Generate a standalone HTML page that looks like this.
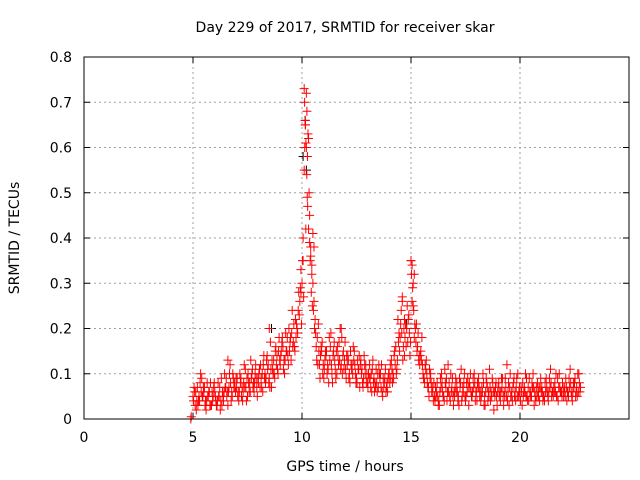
<!DOCTYPE html>
<html><head><meta charset="utf-8"><style>
body{margin:0;background:#fff}
svg{display:block;font-family:"DejaVu Sans","Liberation Sans",sans-serif}
</style></head><body>
<svg id="chart" width="640" height="480" xmlns="http://www.w3.org/2000/svg">
<rect width="640" height="480" fill="#fff"/>
<text x="345" y="32" font-size="14" text-anchor="middle">Day 229 of 2017, SRMTID for receiver skar</text>
<text x="345" y="471" font-size="14" text-anchor="middle">GPS time / hours</text>
<text transform="translate(19,238) rotate(-90)" font-size="14" text-anchor="middle">SRMTID / TECUs</text>
<g id="grid"></g><g id="ticks"></g><g id="pts"></g>
<rect x="84" y="57" width="545" height="362" fill="none" stroke="#000" stroke-width="1"/>
</svg>
<script>
const xTicks=[0,5,10,15,20];
const yTicks=[0,0.1,0.2,0.3,0.4,0.5,0.6,0.7,0.8];
const yTickLabels=["0","0.1","0.2","0.3","0.4","0.5","0.6","0.7","0.8"];
const startHour=5.0;
const seriesA=[.05,.03,.07,.04,.09,.06,.02,.05,.08,.04,
.06,.03,.05,.09,.04,.07,.03,.12,.05,.08,
.07,.04,.09,.06,.11,.05,.08,.10,.06,.09,
.08,.12,.06,.10,.14,.09,.07,.13,.16,.10,
.12,.18,.10,.15,.20,.13,.17,.22,.19,.26,
.30,.55,.72,.62,.38,.30,.22,.18,.12,.15,
.09,.14,.11,.16,.08,.13,.10,.17,.12,.15,
.11,.14,.08,.12,.15,.09,.11,.13,.07,.10,
.08,.12,.06,.09,.11,.07,.10,.05,.09,.08,
.10,.13,.09,.16,.22,.18,.26,.14,.20,.23,
.35,.30,.20,.16,.12,.18,.09,.13,.07,.10,
.06,.04,.08,.03,.10,.05,.07,.12,.04,.09,
.05,.08,.03,.11,.06,.04,.09,.07,.05,.10,
.06,.09,.04,.10,.03,.07,.11,.05,.02,.08,
.07,.04,.09,.05,.12,.03,.06,.08,.04,.10,
.05,.03,.07,.09,.04,.06,.10,.05,.08,.04,
.07,.05,.09,.04,.11,.06,.08,.05,.10,.06,
.05,.09,.06,.11,.04,.08,.07,.10];
const seriesB=[.07,.02,.04,.10,.05,.03,.08,.06,.03,.07,
.04,.08,.02,.06,.10,.05,.07,.04,.09,.06,
.05,.10,.07,.12,.04,.08,.13,.07,.10,.05,
.11,.07,.14,.09,.12,.17,.11,.09,.14,.18,
.15,.11,.19,.14,.17,.24,.16,.21,.28,.33,
.40,.65,.58,.45,.34,.26,.16,.21,.14,.10,
.13,.10,.18,.12,.15,.09,.14,.20,.10,.13,
.14,.09,.12,.16,.10,.13,.07,.11,.14,.08,
.10,.07,.13,.08,.06,.10,.12,.07,.06,.09,
.12,.08,.15,.11,.19,.24,.16,.21,.17,.14,
.26,.18,.21,.13,.15,.10,.12,.08,.11,.06,
.08,.05,.03,.09,.06,.11,.04,.08,.06,.03,
.09,.04,.07,.05,.10,.08,.03,.06,.09,.04,
.08,.05,.07,.03,.09,.06,.04,.08,.05,.03,
.05,.09,.03,.07,.06,.10,.04,.05,.09,.06,
.07,.05,.10,.04,.06,.08,.03,.07,.05,.09,
.04,.08,.06,.09,.05,.07,.10,.04,.06,.08,
.07,.04,.09,.06,.08,.05,.10,.06];
const seriesC=[.04,.06,.03,.08,.05,.07,.04,.06,.03,.05,
.05,.04,.07,.03,.06,.09,.06,.08,.10,.07,
.09,.06,.05,.08,.07,.10,.06,.11,.08,.07,
.10,.09,.12,.08,.11,.07,.13,.10,.12,.15,
.14,.16,.13,.18,.15,.19,.21,.18,.24,.29,
.35,.60,.68,.50,.28,.24,.19,.12,.09,.17,
.11,.15,.08,.19,.14,.11,.16,.13,.18,.11,
.09,.13,.15,.10,.12,.08,.14,.10,.09,.12,
.07,.09,.11,.06,.08,.12,.07,.09,.11,.06,
.08,.11,.14,.10,.17,.21,.13,.18,.25,.19,
.32,.24,.17,.19,.14,.12,.08,.10,.05,.08,
.04,.07,.05,.06,.08,.04,.09,.06,.10,.05,
.07,.06,.09,.04,.08,.05,.07,.10,.06,.08,
.04,.07,.05,.08,.06,.04,.07,.09,.06,.05,
.08,.06,.05,.09,.04,.07,.05,.09,.07,.05,
.04,.08,.06,.05,.09,.05,.07,.04,.06,.07,
.06,.04,.07,.06,.08,.05,.06,.09,.07,.05,
.06,.07,.05,.08,.06,.09,.05,.08];
const seriesD=[.06,.04,.05,.06,.07,.04,.05,.03,.06,.08,
.03,.05,.04,.05,.07,.06,.10,.06,.07,.09,
.06,.08,.04,.07,.09,.06,.09,.08,.12,.09,
.07,.10,.09,.13,.08,.11,.10,.15,.11,.13,
.17,.13,.15,.12,.18,.16,.15,.20,.23,.21,
.27,.42,.63,.35,.25,.20,.13,.15,.16,.12,
.15,.12,.13,.10,.17,.15,.12,.11,.14,.17,
.12,.10,.11,.13,.08,.11,.12,.08,.12,.10,
.09,.10,.08,.07,.10,.09,.06,.08,.07,.10,
.09,.10,.12,.13,.15,.19,.20,.16,.22,.17,
.29,.21,.15,.14,.13,.09,.11,.07,.09,.07,
.05,.06,.04,.07,.05,.08,.06,.05,.07,.06,
.06,.05,.08,.07,.05,.06,.08,.05,.07,.06,
.07,.06,.06,.05,.08,.05,.06,.06,.07,.06,
.06,.07,.06,.05,.08,.05,.07,.06,.05,.07,
.06,.06,.05,.07,.05,.07,.06,.05,.07,.06,
.05,.06,.05,.07,.06,.06,.05,.07,.06,.07,
.05,.06,.07,.05,.07,.06,.06,.07];
const extraX=[4.9,4.92,10.1,10.12,10.14,10.16,10.18,10.2,10.22,10.24,10.26,10.3,10.35,10.4,10.45,9.95,10.05,15.0,15.05,15.1,15.15,14.6,14.7,11.8,8.5,6.6,10.5,10.55];
const extraY=[0.0,0.005,.73,.70,.66,.65,.61,.60,.54,.49,.47,.42,.39,.36,.32,.28,.35,.35,.34,.25,.32,.27,.22,.20,.20,.13,.41,.38];
const blackX=[10.05,10.2,8.6,14.8,10.15];
const blackY=[.58,.55,.20,.21,.66];

const X0=84,X1=629,Y0=419,Y1=57;
const xs=v=>X0+(v/25)*(X1-X0);
const ys=v=>Y0-(v/0.8)*(Y0-Y1);
const NS="http://www.w3.org/2000/svg";
function mk(tag,attrs,parent){const e=document.createElementNS(NS,tag);for(const k in attrs)e.setAttribute(k,attrs[k]);parent.appendChild(e);return e;}
const grid=document.getElementById('grid'),ticks=document.getElementById('ticks'),pts=document.getElementById('pts');
xTicks.forEach(t=>{
 const x=xs(t);
 if(t>0){const l=mk('line',{x1:x,x2:x,y1:Y0,y2:Y1,stroke:'#a0a0a0','stroke-dasharray':'2,3'},grid);
 
 }
 const m=mk('path',{d:`M${x},${Y0}v-6M${x},${Y1}v6`,stroke:'#000'},ticks);
 
 
 const tk=mk('text',{x:x,y:442,'font-size':14,'text-anchor':'middle'},ticks);tk.textContent=t;
 
 
});
yTicks.forEach((t,i)=>{
 const y=ys(t);
 if(t>0){const l=mk('line',{x1:X0,x2:X1,y1:y,y2:y,stroke:'#a0a0a0','stroke-dasharray':'2,3'},grid);
 
 }
 const m=mk('path',{d:`M${X0},${y}h6M${X1},${y}h-6`,stroke:'#000'},ticks);
 
 
 const tk=mk('text',{x:72,y:y+5,'font-size':14,'text-anchor':'end'},ticks);tk.textContent=yTickLabels[i];
 
 
});
function plus(xv,yv,color){
 const x=xs(xv),y=ys(yv);
 const p=mk('path',{d:`M${x-4.5},${y}h9M${x},${y-4.5}v9`,stroke:color,'stroke-width':1,fill:'none'},pts);
 
 
}
blackX.forEach((x,i)=>plus(x,blackY[i],'#000'));
seriesA.forEach((v,i)=>plus(startHour+i*0.1,v,'#f00'));
seriesC.forEach((v,i)=>plus(startHour+0.025+i*0.1,v,'#f00'));
seriesB.forEach((v,i)=>plus(startHour+0.05+i*0.1,v,'#f00'));
seriesD.forEach((v,i)=>plus(startHour+0.075+i*0.1,v,'#f00'));
extraX.forEach((x,i)=>plus(x,extraY[i],'#f00'));
</script>
</body></html>
